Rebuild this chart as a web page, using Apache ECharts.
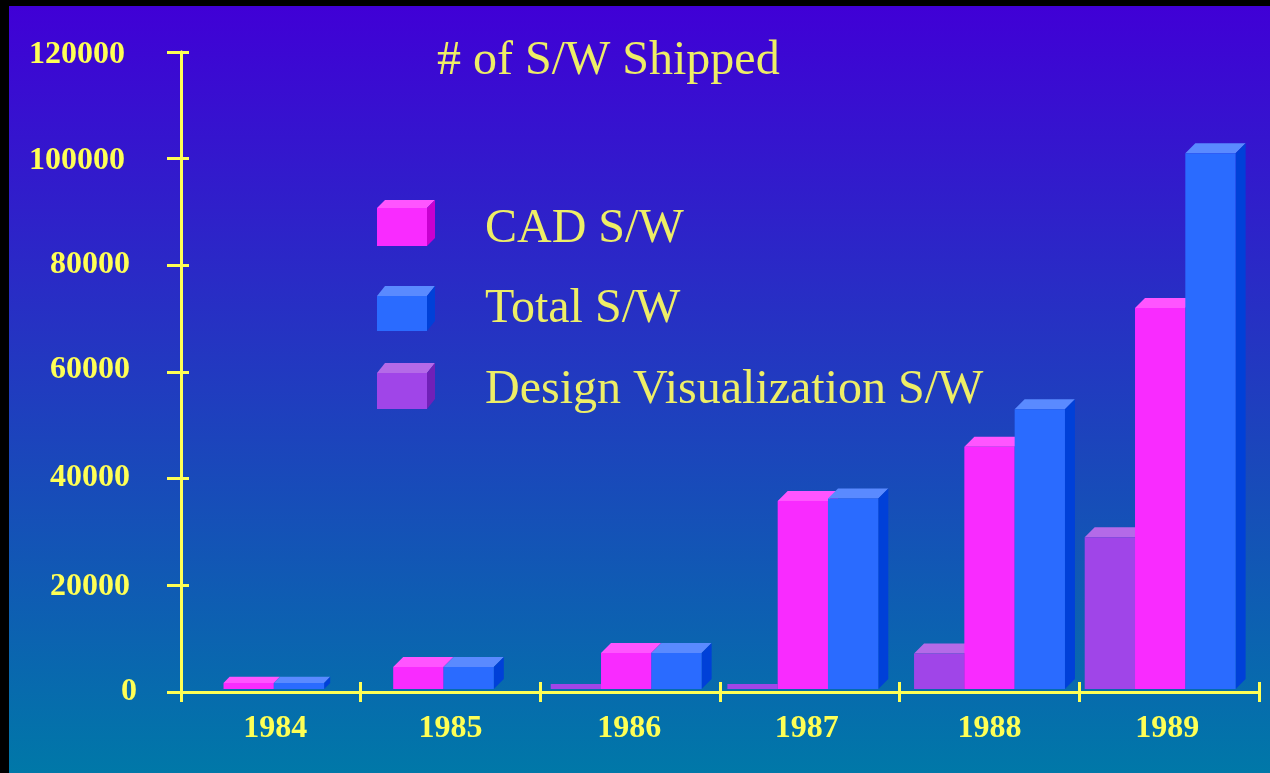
<!DOCTYPE html>
<html>
<head>
<meta charset="utf-8">
<title># of S/W Shipped</title>
<script src="https://cdn.jsdelivr.net/npm/echarts@6/dist/echarts.min.js"></script>
<style>
html, body { margin: 0; padding: 0; background: #000; }
#main { width: 1270px; height: 773px; }
</style>
</head>
<body>
<div id="main"></div>
<script>
var years = ['1984', '1985', '1986', '1987', '1988', '1989'];
var designValues = [null, null, 1500, 1500, 7200, 29000];
var cadValues = [1700, 4700, 7300, 35800, 46000, 72000];
var totalValues = [1700, 4700, 7300, 36300, 53000, 101000];
var seriesNames = ['CAD S/W', 'Total S/W', 'Design Visualization S/W'];

var YELLOW = '#ffff55';
var TEXT = '#eeee66';
var SERIF = '"Liberation Serif", "Times New Roman", serif';

var faces = {
    cad: { front: '#f92bff', top: '#ff55ff', side: '#c800d0' },
    total: { front: '#2a6bff', top: '#5a8aff', side: '#0040d8' },
    design: { front: '#a045e8', top: '#b46ae8', side: '#7020b8' }
};

// the groups in the original don't sit quite centred in their band (px)
var groupNudge = [3, -7, -4, -7, 0, -9];

function box(x, y, w, h, dx, dy, c) {
    var list = [];
    if (dy > 0) {
        list.push({ type: 'polygon', shape: { points: [[x, y], [x + dx, y - dy], [x + w + dx, y - dy], [x + w, y]] }, style: { fill: c.top } });
        list.push({ type: 'polygon', shape: { points: [[x + w, y], [x + w + dx, y - dy], [x + w + dx, y + h - dy], [x + w, y + h]] }, style: { fill: c.side } });
    }
    list.push({ type: 'rect', shape: { x: x, y: y, width: w, height: h }, style: { fill: c.front } });
    return list;
}

function barSeries(name, values, slot, colors) {
    return {
        type: 'custom',
        name: name,
        data: values,
        renderItem: function (params, api) {
            var i = params.dataIndex;
            if (values[i] == null) return null;
            var band = api.size([1, 0])[0];
            var w = band * 0.28;
            var hasDesign = designValues[i] != null;
            var n = hasDesign ? 3 : 2;
            var pos = hasDesign ? slot : slot - 1;
            var center = api.coord([i, 0]);
            var top = api.coord([i, values[i]])[1];
            var bottom = center[1] - 3; // bars stand a little above the axis line
            var x = center[0] + groupNudge[i] - n * w / 2 + pos * w;
            var h = bottom - top;
            var depth = h <= 5 ? 0 : Math.min(10, h);
            return { type: 'group', children: box(x, top, w, h, depth, depth, colors) };
        }
    };
}

function legendBox(y, frontH, dy, colors) {
    return box(377, y, 50, frontH, 8, dy, colors).map(function (el) {
        el.z = 5;
        return el;
    });
}

function legendText(y, str) {
    return { type: 'text', x: 485, y: y, z: 5, style: { text: str, fill: TEXT, font: '48px ' + SERIF, textVerticalAlign: 'middle' } };
}

// y labels are not lined up in the original: px of room on the right, px up (minus = down)
var labelRight = { 0: 0, 20000: 7, 40000: 7, 60000: 7, 80000: 7, 100000: 12, 120000: 12 };
var labelUp = { 0: 0, 20000: -1, 40000: 1, 60000: 2, 80000: 1, 100000: -2, 120000: -3 };

var labelRich = {};
Object.keys(labelRight).forEach(function (v) {
    var up = labelUp[v];
    labelRich['v' + v] = {
        color: YELLOW, fontFamily: SERIF, fontWeight: 'bold', fontSize: 32,
        padding: [up < 0 ? -up * 2 : 0, labelRight[v], up > 0 ? up * 2 : 0, 0]
    };
});

// same for the year labels: px of room left, px of room right
var yearPad = { 1984: [9, 0], 1985: [0, 0], 1986: [0, 2], 1987: [0, 6], 1988: [0, 0], 1989: [0, 4] };
var yearRich = {};
years.forEach(function (y) {
    yearRich['y' + y] = {
        color: YELLOW, fontFamily: SERIF, fontWeight: 'bold', fontSize: 32,
        padding: [0, yearPad[y][1], 0, yearPad[y][0]]
    };
});

var axisBase = {
    axisLine: { show: true, onZero: false, lineStyle: { color: YELLOW, width: 3 } },
    axisTick: { show: true, length: 10, lineStyle: { color: YELLOW, width: 3 } },
    splitLine: { show: false }
};

var myChart = echarts.init(document.getElementById('main'), null, { renderer: 'canvas' });
var option = {
    animation: false,
    backgroundColor: '#000',
    title: {
        text: '# of S/W Shipped',
        left: 432,
        top: 32,
        textStyle: { color: TEXT, fontFamily: SERIF, fontWeight: 'normal', fontSize: 48 }
    },
    grid: { left: 181, right: 11, top: 52, bottom: 81 },
    xAxis: [
        Object.assign({}, axisBase, {
            type: 'category',
            data: years,
            axisTick: { show: true, length: 10, alignWithLabel: false, lineStyle: { color: YELLOW, width: 3 } },
            axisLabel: {
                margin: 21,
                formatter: function (v) { return '{y' + v + '|' + v + '}'; },
                rich: yearRich
            }
        }),
        Object.assign({}, axisBase, {
            type: 'category',
            position: 'bottom',
            data: years,
            axisTick: { show: true, inside: true, length: 10, lineStyle: { color: YELLOW, width: 3 } },
            axisLabel: { show: false }
        })
    ],
    yAxis: [
        Object.assign({}, axisBase, {
            type: 'value',
            min: 0,
            max: 120000,
            interval: 20000,
            axisTick: { show: true, length: 14, lineStyle: { color: YELLOW, width: 3 } },
            axisLabel: {
                margin: 44,
                formatter: function (v) { return '{v' + v + '|' + v + '}'; },
                rich: labelRich
            }
        }),
        Object.assign({}, axisBase, {
            type: 'value',
            position: 'left',
            min: 0,
            max: 120000,
            interval: 20000,
            axisTick: { show: true, inside: true, length: 8, lineStyle: { color: YELLOW, width: 3 } },
            axisLabel: { show: false }
        })
    ],
    graphic: [
        {
            type: 'rect', z: -10, silent: true,
            shape: { x: 9, y: 6, width: 1261, height: 767 },
            style: {
                fill: new echarts.graphic.LinearGradient(0, 0, 0, 1, [
                    { offset: 0, color: '#4000d6' },
                    { offset: 1, color: '#0078a8' }
                ])
            }
        }
    ].concat(
        legendBox(208, 38, 8, faces.cad),
        legendBox(296, 35, 10, faces.total),
        legendBox(373, 36, 10, faces.design),
        [
            legendText(229, seriesNames[0]),
            legendText(309, seriesNames[1]),
            legendText(390, seriesNames[2])
        ]
    ),
    series: [
        barSeries(seriesNames[2], designValues, 0, faces.design),
        barSeries(seriesNames[0], cadValues, 1, faces.cad),
        barSeries(seriesNames[1], totalValues, 2, faces.total)
    ]
};
myChart.setOption(option);
</script>
</body>
</html>
